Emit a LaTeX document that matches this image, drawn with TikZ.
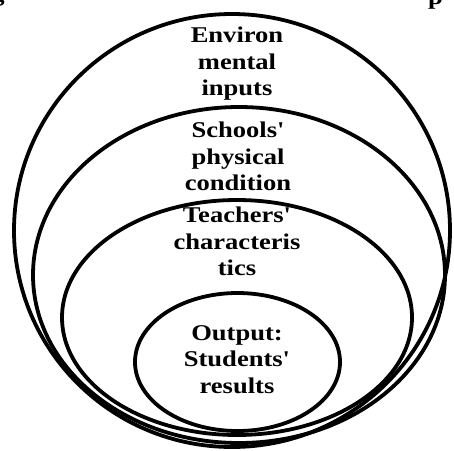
\documentclass[tikz,border=0pt]{standalone}
\usepackage{fontspec}
\newfontfamily\ringfont[FakeStretch=1.18]{Liberation Serif}
\usetikzlibrary{shapes.geometric}
\tikzset{
  ring/.style={draw,ellipse,line width=3.8pt,inner sep=0pt},
  ringlabel/.style={anchor=north,inner sep=0pt,align=center,font=\ringfont\bfseries\fontsize{22.5}{26.5}\selectfont}
}
\begin{document}
\begin{tikzpicture}[x=1pt,y=-1pt]
    \useasboundingbox (0,0) rectangle (454,450);
    \node[ring,minimum width=436pt,minimum height=433pt] (envring) at (232,230.5) {};
    \node[ring,minimum width=412pt,minimum height=336pt] (schoolring) at (239,275) {};
    \node[ring,minimum width=350pt,minimum height=235pt] (teachring) at (237,317.5) {};
    \node[ring,minimum width=205pt,minimum height=138pt] (outring) at (237.5,362) {};
    \node[ringlabel] (envtext) at (237,27) {Environ\\mental\\inputs};
    \node[ringlabel] (schooltext) at (238,122) {Schools'\\physical\\condition};
    \node[ringlabel] (teachtext) at (237,207) {Teachers'\\characteris\\tics};
    \node[ringlabel] (outtext) at (237,325) {Output:\\Students'\\results};
    \node[ringlabel,anchor=base] (capg) at (-2,1) {g};
    \node[ringlabel,anchor=base west] (capp) at (428,4) {p};
\end{tikzpicture}
\end{document}
